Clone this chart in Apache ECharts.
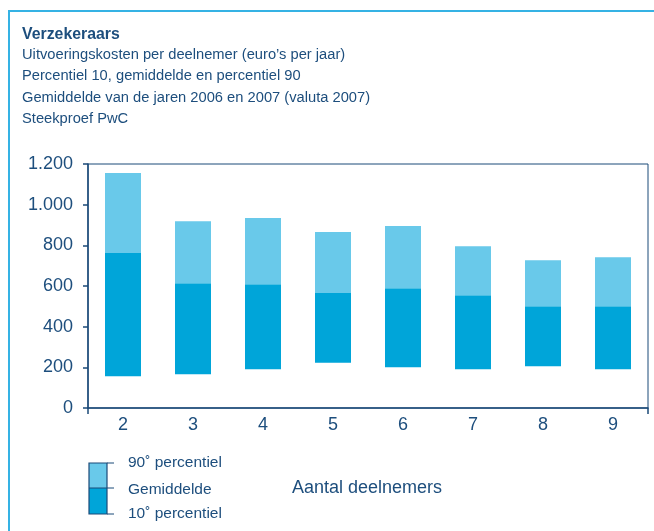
<!DOCTYPE html>
<html>
<head>
<meta charset="utf-8">
<script src="https://cdn.jsdelivr.net/npm/echarts@6/dist/echarts.min.js"></script>
<style>
  html, body { margin: 0; padding: 0; background: #fff; }
  #main { width: 654px; height: 531px; }
</style>
</head>
<body>
<div id="main"></div>
<script>
// aantal deelnemers (categorieen)
var categories = ['2', '3', '4', '5', '6', '7', '8', '9'];
// uitvoeringskosten per deelnemer, euro's per jaar
var p10 = [156, 166, 191, 222, 200, 191, 205, 191];
var gemiddelde = [762, 614, 609, 565, 589, 555, 501, 501];
var p90 = [1156, 919, 934, 865, 895, 796, 727, 742];

var titleLines = [
	'Uitvoeringskosten per deelnemer (euro\u2019s per jaar)',
	'Percentiel 10, gemiddelde en percentiel 90',
	'Gemiddelde van de jaren 2006 en 2007 (valuta 2007)',
	'Steekproef PwC'
];

var textColor = '#1d4e7d';
var axisColor = '#1b4a78';
var darkBlue = '#00a5d9';
var lightBlue = '#69c9ea';
var font = 'Liberation Sans, Arial, sans-serif';

var onderDeel = p10.map(function (v, i) { return gemiddelde[i] - v; });
var bovenDeel = p90.map(function (v, i) { return v - gemiddelde[i]; });

var myChart = echarts.init(document.getElementById('main'));
var option = {
	backgroundColor: '#fff',
	animation: false,
	textStyle: { fontFamily: font, color: textColor },
	grid: {
		left: 88, right: 6, top: 164, bottom: 123,
		show: true, borderColor: axisColor, borderWidth: 1
	},
	xAxis: [{
		type: 'category',
		data: categories,
		axisLine: { lineStyle: { color: axisColor, width: 1.5 } },
		axisTick: { show: false },
		axisLabel: { color: textColor, fontSize: 18, margin: 8, fontFamily: font }
	}, {
		// alleen voor de streepjes aan de uiteinden
		type: 'value', position: 'bottom', min: 0, max: 1, interval: 1,
		axisLine: { show: false },
		axisTick: { show: true, length: 6, lineStyle: { color: axisColor, width: 1.5 } },
		axisLabel: { show: false },
		splitLine: { show: false }
	}],
	yAxis: {
		type: 'value',
		min: 0, max: 1200, interval: 200,
		axisLine: { show: true, lineStyle: { color: axisColor, width: 1.5 } },
		axisTick: { show: true, length: 5, lineStyle: { color: axisColor, width: 1.5 } },
		splitLine: { show: false },
		axisLabel: {
			color: textColor, fontSize: 18, margin: 15, fontFamily: font,
			formatter: function (v) { return String(v).replace(/\B(?=(\d{3})+(?!\d))/g, '.'); }
		}
	},
	series: [{
		name: 'basis', type: 'bar', stack: 'k', barWidth: 36,
		itemStyle: { color: 'transparent' },
		data: p10
	}, {
		name: 'Gemiddelde', type: 'bar', stack: 'k', barWidth: 36,
		itemStyle: { color: darkBlue },
		data: onderDeel
	}, {
		name: '90e percentiel', type: 'bar', stack: 'k', barWidth: 36,
		itemStyle: { color: lightBlue },
		data: bovenDeel
	}],
	graphic: [
		// kader
		{ type: 'line', shape: { x1: 8, y1: 11, x2: 654, y2: 11 }, style: { stroke: '#35b2e4', lineWidth: 2 } },
		{ type: 'line', shape: { x1: 9, y1: 10, x2: 9, y2: 531 }, style: { stroke: '#35b2e4', lineWidth: 2 } },
		// titels
		{ type: 'text', x: 22, y: 26, scaleX: 0.96, style: { text: 'Verzekeraars', fill: textColor, font: 'bold 16.5px ' + font } },
		{ type: 'text', x: 22, y: 44, scaleX: 0.955, style: { text: titleLines.join('\n'), fill: textColor, font: '15.4px ' + font, lineHeight: 21.4 } },
		// legenda
		{ type: 'rect', shape: { x: 89, y: 463, width: 18, height: 25 }, style: { fill: lightBlue } },
		{ type: 'rect', shape: { x: 89, y: 488, width: 18, height: 26 }, style: { fill: darkBlue } },
		{ type: 'rect', shape: { x: 89, y: 463, width: 18, height: 51 }, style: { fill: 'none', stroke: axisColor, lineWidth: 1.2 } },
		{ type: 'line', shape: { x1: 107, y1: 463, x2: 114, y2: 463 }, style: { stroke: axisColor, lineWidth: 1 } },
		{ type: 'line', shape: { x1: 89, y1: 488, x2: 114, y2: 488 }, style: { stroke: axisColor, lineWidth: 1 } },
		{ type: 'line', shape: { x1: 107, y1: 514, x2: 114, y2: 514 }, style: { stroke: axisColor, lineWidth: 1 } },
		{ type: 'text', x: 128, y: 463, style: { text: '90\u02da percentiel', fill: textColor, font: '15.5px ' + font, verticalAlign: 'middle' } },
		{ type: 'text', x: 128, y: 490, style: { text: 'Gemiddelde', fill: textColor, font: '15.5px ' + font, verticalAlign: 'middle' } },
		{ type: 'text', x: 128, y: 514, style: { text: '10\u02da percentiel', fill: textColor, font: '15.5px ' + font, verticalAlign: 'middle' } },
		{ type: 'text', x: 292, y: 488, style: { text: 'Aantal deelnemers', fill: textColor, font: '18px ' + font, verticalAlign: 'middle' } }
	]
};
myChart.setOption(option);
</script>
</body>
</html>
